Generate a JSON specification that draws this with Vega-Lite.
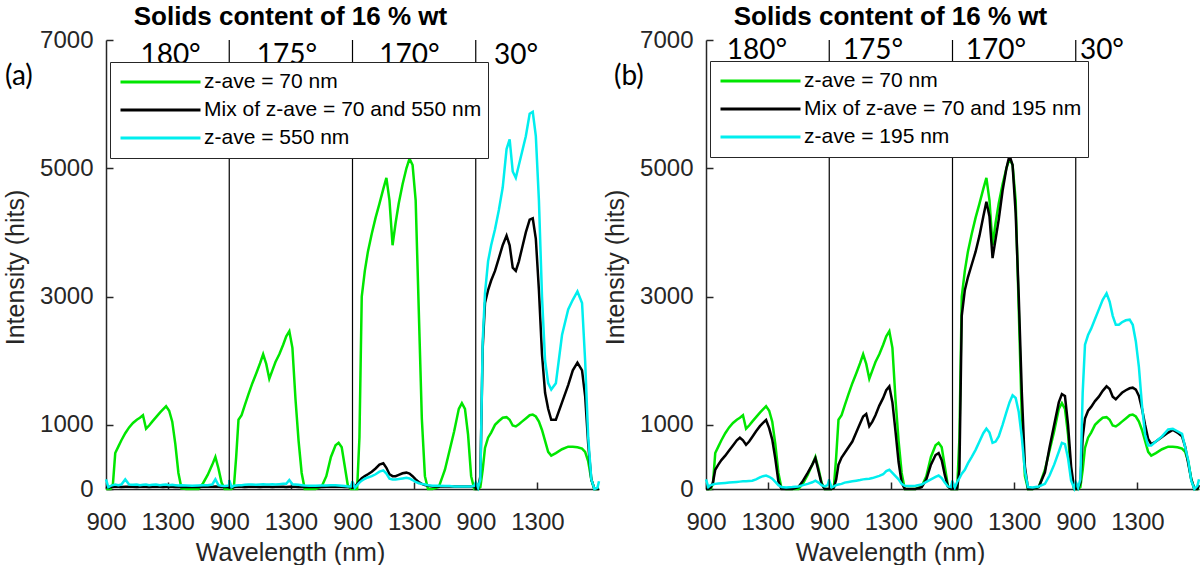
{
"$schema": "https://vega.github.io/schema/vega-lite/v6.json",
"background": "white",
"padding": {"left": 3, "top": 4, "right": 0, "bottom": 0},
"autosize": {"type": "pad"},
"datasets": {"spectra": [
{"p":"a","s":0,"w":900,"g":0,"k":30,"c":150},{"p":"a","s":0,"w":915,"g":0,"k":20,"c":30},{"p":"a","s":0,"w":930,"g":0,"k":30,"c":50},{"p":"a","s":0,"w":945,"g":80,"k":35,"c":60},{"p":"a","s":0,"w":960,"g":560,"k":35,"c":70},{"p":"a","s":0,"w":980,"g":660,"k":35,"c":60},{"p":"a","s":0,"w":1000,"g":760,"k":30,"c":70},{"p":"a","s":0,"w":1025,"g":870,"k":35,"c":150},{"p":"a","s":0,"w":1050,"g":960,"k":35,"c":70},{"p":"a","s":0,"w":1075,"g":1030,"k":35,"c":65},{"p":"a","s":0,"w":1100,"g":1080,"k":30,"c":70},{"p":"a","s":0,"w":1120,"g":1110,"k":35,"c":60},{"p":"a","s":0,"w":1140,"g":1150,"k":35,"c":65},{"p":"a","s":0,"w":1160,"g":940,"k":35,"c":70},{"p":"a","s":0,"w":1180,"g":990,"k":30,"c":60},{"p":"a","s":0,"w":1200,"g":1050,"k":35,"c":65},{"p":"a","s":0,"w":1225,"g":1120,"k":35,"c":70},{"p":"a","s":0,"w":1250,"g":1190,"k":35,"c":60},{"p":"a","s":0,"w":1270,"g":1240,"k":30,"c":65},{"p":"a","s":0,"w":1290,"g":1290,"k":35,"c":70},{"p":"a","s":0,"w":1310,"g":1220,"k":35,"c":60},{"p":"a","s":0,"w":1330,"g":1050,"k":35,"c":65},{"p":"a","s":0,"w":1350,"g":700,"k":30,"c":60},{"p":"a","s":0,"w":1370,"g":250,"k":35,"c":55},{"p":"a","s":0,"w":1390,"g":10,"k":30,"c":60},{"p":"a","s":0,"w":1420,"g":0,"k":30,"c":55},{"p":"a","s":0,"w":1460,"g":0,"k":30,"c":50},{"p":"a","s":0,"w":1500,"g":0,"k":30,"c":55},{"p":"a","s":0,"w":1530,"g":90,"k":35,"c":60},{"p":"a","s":0,"w":1560,"g":220,"k":35,"c":60},{"p":"a","s":0,"w":1590,"g":380,"k":35,"c":70},{"p":"a","s":0,"w":1610,"g":500,"k":40,"c":150},{"p":"a","s":0,"w":1630,"g":320,"k":35,"c":60},{"p":"a","s":0,"w":1650,"g":100,"k":30,"c":50},{"p":"a","s":0,"w":1670,"g":0,"k":30,"c":45},{"p":"a","s":0,"w":1690,"g":0,"k":30,"c":50},{"p":"a","s":0,"w":1700,"g":0,"k":40,"c":60},
{"p":"a","s":1,"w":900,"g":0,"k":30,"c":140},{"p":"a","s":1,"w":915,"g":0,"k":20,"c":30},{"p":"a","s":1,"w":930,"g":30,"k":30,"c":50},{"p":"a","s":1,"w":945,"g":500,"k":35,"c":55},{"p":"a","s":1,"w":960,"g":1080,"k":35,"c":60},{"p":"a","s":1,"w":980,"g":1150,"k":35,"c":60},{"p":"a","s":1,"w":1000,"g":1300,"k":30,"c":65},{"p":"a","s":1,"w":1025,"g":1480,"k":35,"c":70},{"p":"a","s":1,"w":1050,"g":1650,"k":35,"c":70},{"p":"a","s":1,"w":1075,"g":1800,"k":35,"c":65},{"p":"a","s":1,"w":1100,"g":1960,"k":30,"c":70},{"p":"a","s":1,"w":1120,"g":2100,"k":35,"c":75},{"p":"a","s":1,"w":1140,"g":1950,"k":35,"c":70},{"p":"a","s":1,"w":1160,"g":1720,"k":35,"c":70},{"p":"a","s":1,"w":1180,"g":1850,"k":30,"c":75},{"p":"a","s":1,"w":1200,"g":1980,"k":35,"c":70},{"p":"a","s":1,"w":1225,"g":2100,"k":35,"c":75},{"p":"a","s":1,"w":1250,"g":2250,"k":35,"c":80},{"p":"a","s":1,"w":1270,"g":2380,"k":30,"c":80},{"p":"a","s":1,"w":1290,"g":2460,"k":35,"c":140},{"p":"a","s":1,"w":1310,"g":2200,"k":35,"c":75},{"p":"a","s":1,"w":1330,"g":1400,"k":35,"c":70},{"p":"a","s":1,"w":1350,"g":750,"k":30,"c":65},{"p":"a","s":1,"w":1370,"g":250,"k":35,"c":60},{"p":"a","s":1,"w":1390,"g":0,"k":30,"c":55},{"p":"a","s":1,"w":1420,"g":0,"k":30,"c":50},{"p":"a","s":1,"w":1460,"g":0,"k":30,"c":50},{"p":"a","s":1,"w":1500,"g":40,"k":30,"c":55},{"p":"a","s":1,"w":1530,"g":200,"k":35,"c":55},{"p":"a","s":1,"w":1560,"g":500,"k":35,"c":60},{"p":"a","s":1,"w":1590,"g":680,"k":35,"c":60},{"p":"a","s":1,"w":1610,"g":720,"k":40,"c":55},{"p":"a","s":1,"w":1630,"g":650,"k":35,"c":50},{"p":"a","s":1,"w":1650,"g":350,"k":30,"c":45},{"p":"a","s":1,"w":1670,"g":50,"k":30,"c":40},{"p":"a","s":1,"w":1690,"g":0,"k":30,"c":40},{"p":"a","s":1,"w":1700,"g":0,"k":40,"c":120},
{"p":"a","s":2,"w":900,"g":0,"k":20,"c":100},{"p":"a","s":2,"w":915,"g":0,"k":30,"c":20},{"p":"a","s":2,"w":930,"g":0,"k":80,"c":60},{"p":"a","s":2,"w":945,"g":800,"k":130,"c":100},{"p":"a","s":2,"w":960,"g":3000,"k":170,"c":130},{"p":"a","s":2,"w":980,"g":3400,"k":200,"c":160},{"p":"a","s":2,"w":1000,"g":3700,"k":230,"c":180},{"p":"a","s":2,"w":1025,"g":3980,"k":270,"c":200},{"p":"a","s":2,"w":1050,"g":4230,"k":320,"c":230},{"p":"a","s":2,"w":1075,"g":4450,"k":380,"c":270},{"p":"a","s":2,"w":1100,"g":4680,"k":400,"c":290},{"p":"a","s":2,"w":1120,"g":4850,"k":330,"c":240},{"p":"a","s":2,"w":1140,"g":4500,"k":230,"c":160},{"p":"a","s":2,"w":1160,"g":3800,"k":200,"c":150},{"p":"a","s":2,"w":1180,"g":4150,"k":200,"c":150},{"p":"a","s":2,"w":1200,"g":4450,"k":220,"c":155},{"p":"a","s":2,"w":1225,"g":4750,"k":245,"c":165},{"p":"a","s":2,"w":1250,"g":5000,"k":255,"c":175},{"p":"a","s":2,"w":1270,"g":5150,"k":240,"c":165},{"p":"a","s":2,"w":1290,"g":5050,"k":200,"c":140},{"p":"a","s":2,"w":1310,"g":4500,"k":150,"c":110},{"p":"a","s":2,"w":1330,"g":2800,"k":110,"c":90},{"p":"a","s":2,"w":1350,"g":1100,"k":80,"c":80},{"p":"a","s":2,"w":1370,"g":200,"k":60,"c":70},{"p":"a","s":2,"w":1390,"g":0,"k":50,"c":60},{"p":"a","s":2,"w":1420,"g":0,"k":40,"c":50},{"p":"a","s":2,"w":1460,"g":30,"k":40,"c":50},{"p":"a","s":2,"w":1500,"g":300,"k":40,"c":45},{"p":"a","s":2,"w":1530,"g":600,"k":40,"c":45},{"p":"a","s":2,"w":1560,"g":900,"k":40,"c":40},{"p":"a","s":2,"w":1590,"g":1250,"k":40,"c":40},{"p":"a","s":2,"w":1610,"g":1340,"k":40,"c":40},{"p":"a","s":2,"w":1630,"g":1250,"k":40,"c":40},{"p":"a","s":2,"w":1650,"g":850,"k":40,"c":40},{"p":"a","s":2,"w":1670,"g":200,"k":40,"c":40},{"p":"a","s":2,"w":1690,"g":0,"k":40,"c":50},{"p":"a","s":2,"w":1700,"g":0,"k":40,"c":100},
{"p":"a","s":3,"w":900,"g":0,"k":0,"c":100},{"p":"a","s":3,"w":915,"g":0,"k":0,"c":20},{"p":"a","s":3,"w":930,"g":30,"k":200,"c":150},{"p":"a","s":3,"w":945,"g":300,"k":2200,"c":2300},{"p":"a","s":3,"w":960,"g":640,"k":2900,"c":3050},{"p":"a","s":3,"w":980,"g":800,"k":3100,"c":3550},{"p":"a","s":3,"w":1000,"g":880,"k":3250,"c":3800},{"p":"a","s":3,"w":1025,"g":1000,"k":3400,"c":4050},{"p":"a","s":3,"w":1050,"g":1060,"k":3600,"c":4350},{"p":"a","s":3,"w":1075,"g":1110,"k":3800,"c":4700},{"p":"a","s":3,"w":1100,"g":1120,"k":3950,"c":5300},{"p":"a","s":3,"w":1120,"g":1080,"k":3800,"c":5450},{"p":"a","s":3,"w":1140,"g":990,"k":3450,"c":4950},{"p":"a","s":3,"w":1160,"g":975,"k":3400,"c":4850},{"p":"a","s":3,"w":1180,"g":1010,"k":3550,"c":5050},{"p":"a","s":3,"w":1200,"g":1050,"k":3750,"c":5250},{"p":"a","s":3,"w":1225,"g":1100,"k":4000,"c":5500},{"p":"a","s":3,"w":1250,"g":1150,"k":4200,"c":5850},{"p":"a","s":3,"w":1270,"g":1160,"k":4220,"c":5880},{"p":"a","s":3,"w":1290,"g":1130,"k":3900,"c":5500},{"p":"a","s":3,"w":1310,"g":1050,"k":3100,"c":4500},{"p":"a","s":3,"w":1330,"g":920,"k":2100,"c":3000},{"p":"a","s":3,"w":1350,"g":750,"k":1500,"c":2000},{"p":"a","s":3,"w":1370,"g":580,"k":1250,"c":1650},{"p":"a","s":3,"w":1390,"g":520,"k":1080,"c":1550},{"p":"a","s":3,"w":1420,"g":560,"k":1080,"c":1650},{"p":"a","s":3,"w":1460,"g":620,"k":1350,"c":2400},{"p":"a","s":3,"w":1500,"g":660,"k":1620,"c":2800},{"p":"a","s":3,"w":1530,"g":660,"k":1850,"c":2950},{"p":"a","s":3,"w":1560,"g":650,"k":1970,"c":3080},{"p":"a","s":3,"w":1590,"g":630,"k":1850,"c":2900},{"p":"a","s":3,"w":1610,"g":580,"k":1450,"c":2000},{"p":"a","s":3,"w":1630,"g":430,"k":700,"c":800},{"p":"a","s":3,"w":1650,"g":150,"k":150,"c":150},{"p":"a","s":3,"w":1670,"g":0,"k":0,"c":0},{"p":"a","s":3,"w":1690,"g":0,"k":0,"c":20},{"p":"a","s":3,"w":1700,"g":10,"k":0,"c":120},
{"p":"b","s":0,"w":900,"g":0,"k":0,"c":150},{"p":"b","s":0,"w":915,"g":0,"k":0,"c":30},{"p":"b","s":0,"w":930,"g":0,"k":20,"c":60},{"p":"b","s":0,"w":945,"g":80,"k":100,"c":70},{"p":"b","s":0,"w":960,"g":560,"k":300,"c":80},{"p":"b","s":0,"w":980,"g":660,"k":380,"c":85},{"p":"b","s":0,"w":1000,"g":760,"k":450,"c":90},{"p":"b","s":0,"w":1025,"g":870,"k":520,"c":95},{"p":"b","s":0,"w":1050,"g":960,"k":600,"c":100},{"p":"b","s":0,"w":1075,"g":1030,"k":680,"c":105},{"p":"b","s":0,"w":1100,"g":1080,"k":760,"c":110},{"p":"b","s":0,"w":1120,"g":1110,"k":800,"c":115},{"p":"b","s":0,"w":1140,"g":1150,"k":760,"c":120},{"p":"b","s":0,"w":1160,"g":940,"k":690,"c":120},{"p":"b","s":0,"w":1180,"g":990,"k":740,"c":125},{"p":"b","s":0,"w":1200,"g":1050,"k":810,"c":130},{"p":"b","s":0,"w":1225,"g":1120,"k":900,"c":150},{"p":"b","s":0,"w":1250,"g":1190,"k":980,"c":180},{"p":"b","s":0,"w":1270,"g":1240,"k":1030,"c":200},{"p":"b","s":0,"w":1290,"g":1290,"k":1075,"c":210},{"p":"b","s":0,"w":1310,"g":1220,"k":950,"c":190},{"p":"b","s":0,"w":1330,"g":1050,"k":770,"c":160},{"p":"b","s":0,"w":1350,"g":700,"k":470,"c":110},{"p":"b","s":0,"w":1370,"g":250,"k":120,"c":60},{"p":"b","s":0,"w":1390,"g":10,"k":0,"c":30},{"p":"b","s":0,"w":1420,"g":0,"k":0,"c":25},{"p":"b","s":0,"w":1460,"g":0,"k":0,"c":30},{"p":"b","s":0,"w":1500,"g":0,"k":30,"c":40},{"p":"b","s":0,"w":1530,"g":90,"k":130,"c":60},{"p":"b","s":0,"w":1560,"g":220,"k":250,"c":80},{"p":"b","s":0,"w":1590,"g":380,"k":380,"c":105},{"p":"b","s":0,"w":1610,"g":500,"k":480,"c":130},{"p":"b","s":0,"w":1630,"g":320,"k":280,"c":100},{"p":"b","s":0,"w":1650,"g":100,"k":80,"c":60},{"p":"b","s":0,"w":1670,"g":0,"k":0,"c":40},{"p":"b","s":0,"w":1690,"g":0,"k":0,"c":60},{"p":"b","s":0,"w":1700,"g":0,"k":0,"c":150},
{"p":"b","s":1,"w":900,"g":0,"k":0,"c":130},{"p":"b","s":1,"w":915,"g":0,"k":0,"c":25},{"p":"b","s":1,"w":930,"g":30,"k":20,"c":40},{"p":"b","s":1,"w":945,"g":500,"k":150,"c":60},{"p":"b","s":1,"w":960,"g":1080,"k":380,"c":70},{"p":"b","s":1,"w":980,"g":1150,"k":490,"c":80},{"p":"b","s":1,"w":1000,"g":1300,"k":560,"c":100},{"p":"b","s":1,"w":1025,"g":1480,"k":650,"c":110},{"p":"b","s":1,"w":1050,"g":1650,"k":740,"c":120},{"p":"b","s":1,"w":1075,"g":1800,"k":880,"c":130},{"p":"b","s":1,"w":1100,"g":1960,"k":1020,"c":140},{"p":"b","s":1,"w":1120,"g":2100,"k":1130,"c":150},{"p":"b","s":1,"w":1140,"g":1950,"k":1170,"c":155},{"p":"b","s":1,"w":1160,"g":1720,"k":980,"c":160},{"p":"b","s":1,"w":1180,"g":1850,"k":1050,"c":170},{"p":"b","s":1,"w":1200,"g":1980,"k":1150,"c":185},{"p":"b","s":1,"w":1225,"g":2100,"k":1300,"c":205},{"p":"b","s":1,"w":1250,"g":2250,"k":1420,"c":230},{"p":"b","s":1,"w":1270,"g":2380,"k":1540,"c":280},{"p":"b","s":1,"w":1290,"g":2460,"k":1600,"c":300},{"p":"b","s":1,"w":1310,"g":2200,"k":1350,"c":250},{"p":"b","s":1,"w":1330,"g":1400,"k":900,"c":200},{"p":"b","s":1,"w":1350,"g":750,"k":420,"c":150},{"p":"b","s":1,"w":1370,"g":250,"k":100,"c":80},{"p":"b","s":1,"w":1390,"g":0,"k":0,"c":50},{"p":"b","s":1,"w":1420,"g":0,"k":0,"c":45},{"p":"b","s":1,"w":1460,"g":0,"k":0,"c":50},{"p":"b","s":1,"w":1500,"g":40,"k":30,"c":70},{"p":"b","s":1,"w":1530,"g":200,"k":150,"c":110},{"p":"b","s":1,"w":1560,"g":500,"k":380,"c":150},{"p":"b","s":1,"w":1590,"g":680,"k":530,"c":190},{"p":"b","s":1,"w":1610,"g":720,"k":560,"c":210},{"p":"b","s":1,"w":1630,"g":650,"k":450,"c":170},{"p":"b","s":1,"w":1650,"g":350,"k":220,"c":100},{"p":"b","s":1,"w":1670,"g":50,"k":40,"c":40},{"p":"b","s":1,"w":1690,"g":0,"k":0,"c":30},{"p":"b","s":1,"w":1700,"g":0,"k":0,"c":130},
{"p":"b","s":2,"w":900,"g":0,"k":0,"c":100},{"p":"b","s":2,"w":915,"g":0,"k":0,"c":25},{"p":"b","s":2,"w":930,"g":0,"k":0,"c":110},{"p":"b","s":2,"w":945,"g":800,"k":300,"c":170},{"p":"b","s":2,"w":960,"g":3000,"k":2700,"c":240},{"p":"b","s":2,"w":980,"g":3400,"k":3100,"c":300},{"p":"b","s":2,"w":1000,"g":3700,"k":3300,"c":400},{"p":"b","s":2,"w":1025,"g":3980,"k":3500,"c":500},{"p":"b","s":2,"w":1050,"g":4230,"k":3700,"c":610},{"p":"b","s":2,"w":1075,"g":4450,"k":3950,"c":740},{"p":"b","s":2,"w":1100,"g":4680,"k":4250,"c":870},{"p":"b","s":2,"w":1120,"g":4850,"k":4480,"c":940},{"p":"b","s":2,"w":1140,"g":4500,"k":4250,"c":880},{"p":"b","s":2,"w":1160,"g":3800,"k":3600,"c":720},{"p":"b","s":2,"w":1180,"g":4150,"k":3900,"c":740},{"p":"b","s":2,"w":1200,"g":4450,"k":4200,"c":820},{"p":"b","s":2,"w":1225,"g":4750,"k":4650,"c":1000},{"p":"b","s":2,"w":1250,"g":5000,"k":5000,"c":1200},{"p":"b","s":2,"w":1270,"g":5150,"k":5200,"c":1350},{"p":"b","s":2,"w":1290,"g":5050,"k":5050,"c":1460},{"p":"b","s":2,"w":1310,"g":4500,"k":4300,"c":1420},{"p":"b","s":2,"w":1330,"g":2800,"k":3000,"c":1200},{"p":"b","s":2,"w":1350,"g":1100,"k":1500,"c":800},{"p":"b","s":2,"w":1370,"g":200,"k":350,"c":280},{"p":"b","s":2,"w":1390,"g":0,"k":0,"c":30},{"p":"b","s":2,"w":1420,"g":0,"k":0,"c":25},{"p":"b","s":2,"w":1460,"g":30,"k":30,"c":40},{"p":"b","s":2,"w":1500,"g":300,"k":260,"c":80},{"p":"b","s":2,"w":1530,"g":600,"k":650,"c":210},{"p":"b","s":2,"w":1560,"g":900,"k":1000,"c":380},{"p":"b","s":2,"w":1590,"g":1250,"k":1350,"c":580},{"p":"b","s":2,"w":1610,"g":1340,"k":1480,"c":720},{"p":"b","s":2,"w":1630,"g":1250,"k":1450,"c":700},{"p":"b","s":2,"w":1650,"g":850,"k":1000,"c":480},{"p":"b","s":2,"w":1670,"g":200,"k":350,"c":130},{"p":"b","s":2,"w":1690,"g":0,"k":0,"c":10},{"p":"b","s":2,"w":1700,"g":0,"k":0,"c":100},
{"p":"b","s":3,"w":900,"g":0,"k":0,"c":100},{"p":"b","s":3,"w":915,"g":0,"k":0,"c":20},{"p":"b","s":3,"w":930,"g":30,"k":100,"c":150},{"p":"b","s":3,"w":945,"g":300,"k":800,"c":1500},{"p":"b","s":3,"w":960,"g":640,"k":1100,"c":2250},{"p":"b","s":3,"w":980,"g":800,"k":1220,"c":2400},{"p":"b","s":3,"w":1000,"g":880,"k":1280,"c":2500},{"p":"b","s":3,"w":1025,"g":1000,"k":1370,"c":2650},{"p":"b","s":3,"w":1050,"g":1060,"k":1440,"c":2800},{"p":"b","s":3,"w":1075,"g":1110,"k":1530,"c":2950},{"p":"b","s":3,"w":1100,"g":1120,"k":1600,"c":3050},{"p":"b","s":3,"w":1120,"g":1080,"k":1560,"c":2920},{"p":"b","s":3,"w":1140,"g":990,"k":1440,"c":2700},{"p":"b","s":3,"w":1160,"g":975,"k":1400,"c":2560},{"p":"b","s":3,"w":1180,"g":1010,"k":1450,"c":2560},{"p":"b","s":3,"w":1200,"g":1050,"k":1500,"c":2600},{"p":"b","s":3,"w":1225,"g":1100,"k":1540,"c":2630},{"p":"b","s":3,"w":1250,"g":1150,"k":1570,"c":2640},{"p":"b","s":3,"w":1270,"g":1160,"k":1580,"c":2560},{"p":"b","s":3,"w":1290,"g":1130,"k":1550,"c":2300},{"p":"b","s":3,"w":1310,"g":1050,"k":1450,"c":1900},{"p":"b","s":3,"w":1330,"g":920,"k":1250,"c":1300},{"p":"b","s":3,"w":1350,"g":750,"k":1000,"c":850},{"p":"b","s":3,"w":1370,"g":580,"k":780,"c":680},{"p":"b","s":3,"w":1390,"g":520,"k":700,"c":680},{"p":"b","s":3,"w":1420,"g":560,"k":740,"c":740},{"p":"b","s":3,"w":1460,"g":620,"k":810,"c":820},{"p":"b","s":3,"w":1500,"g":660,"k":880,"c":930},{"p":"b","s":3,"w":1530,"g":660,"k":920,"c":940},{"p":"b","s":3,"w":1560,"g":650,"k":880,"c":900},{"p":"b","s":3,"w":1590,"g":630,"k":820,"c":860},{"p":"b","s":3,"w":1610,"g":580,"k":660,"c":650},{"p":"b","s":3,"w":1630,"g":430,"k":400,"c":450},{"p":"b","s":3,"w":1650,"g":150,"k":150,"c":130},{"p":"b","s":3,"w":1670,"g":0,"k":0,"c":0},{"p":"b","s":3,"w":1690,"g":0,"k":0,"c":50},{"p":"b","s":3,"w":1700,"g":10,"k":60,"c":150}
]},
"hconcat": [
{
"width": 493, "height": 449,
"title": {"text": "Solids content of 16 % wt", "anchor": "middle", "dx": -62, "frame": "group", "offset": -23, "baseline": "alphabetic", "fontSize": 26, "fontWeight": "bold", "font": "Liberation Sans", "color": "#000000"},
"layer": [
{"data": {"name": "spectra"}, "transform": [{"filter": "datum.p == 'a'"}, {"calculate": "datum.w + 800 * datum.s", "as": "x"}, {"fold": ["g"], "as": ["series", "value"]}],
 "mark": {"type": "line", "strokeWidth": 2.5},
 "encoding": {
  "x": {"field": "x", "type": "quantitative", "scale": {"domain": [900, 4100], "nice": false, "zero": false},
        "axis": {"title": "Wavelength (nm)", "values": [900, 1300, 1700, 2100, 2500, 2900, 3300, 3700], "labelExpr": "((datum.value - 900) % 800) + 900", "labelFlush": false, "labelOverlap": false, "labelBound": false, "tickSize": -7, "labelPadding": 28, "labelFontSize": 24, "titleFontSize": 25, "titleX": 184, "titleY": 63, "titleAlign": "center", "titleBaseline": "middle"}},
  "y": {"field": "value", "type": "quantitative", "scale": {"domain": [0, 7000], "nice": false},
        "axis": {"title": "Intensity (hits)", "format": "d", "values": [0, 1000, 3000, 5000, 7000], "labelFlush": false, "labelOverlap": false, "labelBound": false, "tickSize": -7, "labelPadding": 20, "labelFontSize": 24, "titleFontSize": 25, "titleX": -91, "titleY": 227, "titleAlign": "center", "titleBaseline": "middle"}},
  "color": {"field": "series", "type": "nominal", "scale": {"domain": ["g", "k", "c"], "range": ["#00e600", "#000000", "#00eeee"]},
   "legend": {"orient": "none", "legendX": 4, "legendY": 22, "title": null, "symbolType": "stroke", "symbolSize": 6400, "symbolStrokeWidth": 3, "labelFont": "Liberation Sans", "labelFontSize": 21, "labelColor": "#000000", "labelLimit": 500, "labelOffset": 2, "symbolOffset": 3, "padding": 6, "clipHeight": 28, "rowPadding": 0, "strokeColor": "#262626", "fillColor": "#ffffff",
     "labelExpr": "datum.label == 'g' ? 'z-ave = 70 nm' : datum.label == 'k' ? 'Mix of z-ave = 70 and 550 nm' : 'z-ave = 550 nm'"}}
 }},
{"data": {"name": "spectra"}, "transform": [{"filter": "datum.p == 'a'"}, {"calculate": "datum.w + 800 * datum.s", "as": "x"}, {"fold": ["k"], "as": ["series", "value"]}],
 "mark": {"type": "line", "strokeWidth": 2.5},
 "encoding": {"x": {"field": "x", "type": "quantitative"}, "y": {"field": "value", "type": "quantitative"}, "color": {"field": "series", "type": "nominal"}}},
{"data": {"name": "spectra"}, "transform": [{"filter": "datum.p == 'a'"}, {"calculate": "datum.w + 800 * datum.s", "as": "x"}, {"fold": ["c"], "as": ["series", "value"]}],
 "mark": {"type": "line", "strokeWidth": 2.5},
 "encoding": {"x": {"field": "x", "type": "quantitative"}, "y": {"field": "value", "type": "quantitative"}, "color": {"field": "series", "type": "nominal"}}},
{"data": {"values": [{"x": 1700}, {"x": 2500}, {"x": 3300}]},
 "mark": {"type": "rule", "color": "#000000", "strokeWidth": 1.2},
 "encoding": {"x": {"field": "x", "type": "quantitative"}, "y": {"datum": 0, "type": "quantitative"}, "y2": {"datum": 7000}}},
{"data": {"values": [{"x": 1319, "t": "180°"}, {"x": 2075, "t": "175°"}, {"x": 2870, "t": "170°"}, {"x": 3561, "t": "30°"}]},
 "mark": {"type": "text", "font": "Lato", "fontSize": 28, "baseline": "alphabetic", "align": "center", "color": "#000000"},
 "encoding": {"x": {"field": "x", "type": "quantitative"}, "y": {"datum": 6626, "type": "quantitative"}, "text": {"field": "t"}}},
{"data": {"values": [{"x": 244, "t": "(a)"}]},
 "mark": {"type": "text", "font": "Lato", "fontSize": 28, "baseline": "middle", "align": "left", "color": "#000000"},
 "encoding": {"x": {"field": "x", "type": "quantitative"}, "y": {"datum": 6423, "type": "quantitative"}, "text": {"field": "t"}}}
]
},
{
"width": 493, "height": 449,
"title": {"text": "Solids content of 16 % wt", "anchor": "middle", "dx": -62, "frame": "group", "offset": -23, "baseline": "alphabetic", "fontSize": 26, "fontWeight": "bold", "font": "Liberation Sans", "color": "#000000"},
"layer": [
{"data": {"name": "spectra"}, "transform": [{"filter": "datum.p == 'b'"}, {"calculate": "datum.w + 800 * datum.s", "as": "x"}, {"fold": ["g"], "as": ["series", "value"]}],
 "mark": {"type": "line", "strokeWidth": 2.5},
 "encoding": {
  "x": {"field": "x", "type": "quantitative", "scale": {"domain": [900, 4100], "nice": false, "zero": false},
        "axis": {"title": "Wavelength (nm)", "values": [900, 1300, 1700, 2100, 2500, 2900, 3300, 3700], "labelExpr": "((datum.value - 900) % 800) + 900", "labelFlush": false, "labelOverlap": false, "labelBound": false, "tickSize": -7, "labelPadding": 28, "labelFontSize": 24, "titleFontSize": 25, "titleX": 184, "titleY": 63, "titleAlign": "center", "titleBaseline": "middle"}},
  "y": {"field": "value", "type": "quantitative", "scale": {"domain": [0, 7000], "nice": false},
        "axis": {"title": "Intensity (hits)", "format": "d", "values": [0, 1000, 3000, 5000, 7000], "labelFlush": false, "labelOverlap": false, "labelBound": false, "tickSize": -7, "labelPadding": 20, "labelFontSize": 24, "titleFontSize": 25, "titleX": -91, "titleY": 227, "titleAlign": "center", "titleBaseline": "middle"}},
  "color": {"field": "series", "type": "nominal", "scale": {"domain": ["g", "k", "c"], "range": ["#00e600", "#000000", "#00eeee"]},
   "legend": {"orient": "none", "legendX": 4, "legendY": 21, "title": null, "symbolType": "stroke", "symbolSize": 6400, "symbolStrokeWidth": 3, "labelFont": "Liberation Sans", "labelFontSize": 21, "labelColor": "#000000", "labelLimit": 500, "labelOffset": 2, "symbolOffset": 3, "padding": 6, "clipHeight": 28, "rowPadding": 0, "strokeColor": "#262626", "fillColor": "#ffffff",
     "labelExpr": "datum.label == 'g' ? 'z-ave = 70 nm' : datum.label == 'k' ? 'Mix of z-ave = 70 and 195 nm' : 'z-ave = 195 nm'"}}
 }},
{"data": {"name": "spectra"}, "transform": [{"filter": "datum.p == 'b'"}, {"calculate": "datum.w + 800 * datum.s", "as": "x"}, {"fold": ["k"], "as": ["series", "value"]}],
 "mark": {"type": "line", "strokeWidth": 2.5},
 "encoding": {"x": {"field": "x", "type": "quantitative"}, "y": {"field": "value", "type": "quantitative"}, "color": {"field": "series", "type": "nominal"}}},
{"data": {"name": "spectra"}, "transform": [{"filter": "datum.p == 'b'"}, {"calculate": "datum.w + 800 * datum.s", "as": "x"}, {"fold": ["c"], "as": ["series", "value"]}],
 "mark": {"type": "line", "strokeWidth": 2.5},
 "encoding": {"x": {"field": "x", "type": "quantitative"}, "y": {"field": "value", "type": "quantitative"}, "color": {"field": "series", "type": "nominal"}}},
{"data": {"values": [{"x": 1700}, {"x": 2500}, {"x": 3300}]},
 "mark": {"type": "rule", "color": "#000000", "strokeWidth": 1.2},
 "encoding": {"x": {"field": "x", "type": "quantitative"}, "y": {"datum": 0, "type": "quantitative"}, "y2": {"datum": 7000}}},
{"data": {"values": [{"x": 1231, "t": "180°"}, {"x": 1984, "t": "175°"}, {"x": 2782, "t": "170°"}, {"x": 3470, "t": "30°"}]},
 "mark": {"type": "text", "font": "Lato", "fontSize": 28, "baseline": "alphabetic", "align": "center", "color": "#000000"},
 "encoding": {"x": {"field": "x", "type": "quantitative"}, "y": {"datum": 6700, "type": "quantitative"}, "text": {"field": "t"}}},
{"data": {"values": [{"x": 303, "t": "(b)"}]},
 "mark": {"type": "text", "font": "Lato", "fontSize": 28, "baseline": "middle", "align": "left", "color": "#000000"},
 "encoding": {"x": {"field": "x", "type": "quantitative"}, "y": {"datum": 6423, "type": "quantitative"}, "text": {"field": "t"}}}
]
}
],
"spacing": 107,
"bounds": "flush",
"resolve": {"scale": {"color": "independent"}, "legend": {"color": "independent"}},
"config": {
 "view": {"stroke": null},
 "font": "Liberation Sans",
 "axis": {"grid": false, "labelFont": "Liberation Sans", "labelFontSize": 24, "labelColor": "#262626", "titleFont": "Liberation Sans", "titleFontSize": 25, "titleFontWeight": "normal", "titleColor": "#262626", "domainColor": "#262626", "domainWidth": 1.5, "tickColor": "#262626", "tickWidth": 1.5}
}
}
